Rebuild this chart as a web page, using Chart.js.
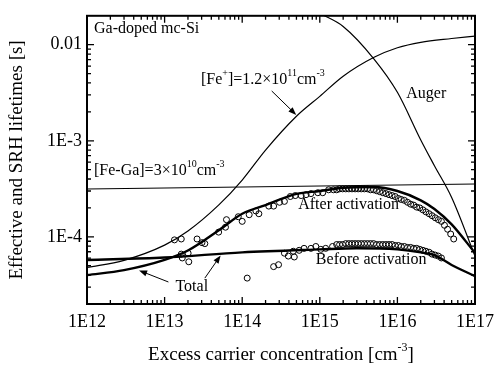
<!DOCTYPE html>
<html>
<head>
<meta charset="utf-8">
<script src="https://cdn.jsdelivr.net/npm/chart.js@4.4.0/dist/chart.umd.min.js"></script>
<style>
html, body { margin: 0; padding: 0; background: #fff; }
#chart { display: block; }
</style>
</head>
<body>
<canvas id="chart" width="501" height="370"></canvas>
<script>
// tick labels
const xTickValues = [1e12, 1e13, 1e14, 1e15, 1e16, 1e17];
const xTickLabels = ["1E12", "1E13", "1E14", "1E15", "1E16", "1E17"];
const yTickValues = [1e-4, 1e-3, 1e-2];
const yTickLabels = ["1E-4", "1E-3", "0.01"];

// SRH lifetime for [Fe+] = 1.2e11
const feX = [1e12, 3e12, 1e13, 2e13, 5e13, 1e14, 2e14, 5e14, 1e15, 2e15, 5e15, 1e16, 2e16, 5e16, 1e17];
const feY = [4.8e-5, 5.7e-5, 8.2e-5, 1.15e-4, 2.15e-4, 3.9e-4, 8.0e-4, 1.8e-3, 2.9e-3, 4.7e-3, 7.4e-3, 9.3e-3, 1.06e-2, 1.16e-2, 1.23e-2];

// SRH lifetime for [Fe-Ga] = 3e10
const feGaX = [1e12, 1e17];
const feGaY = [3.15e-4, 3.55e-4];

// Auger
const augerX = [1e15, 2e15, 5e15, 1e16, 2e16, 3e16, 5e16, 1e17];
const augerY = [0.0212, 0.0155, 0.0071, 0.0032, 1.02e-3, 5.5e-4, 2.57e-4, 6.3e-5];

// total, after activation
const totAfterX = [1e12, 3e12, 1e13, 2e13, 5e13, 1e14, 2e14, 5e14, 1e15, 2e15, 5e15, 1e16, 2e16, 3e16, 5e16, 1e17];
const totAfterY = [4.0e-5, 4.5e-5, 5.75e-5, 7.2e-5, 1.17e-4, 1.74e-4, 2.14e-4, 2.8e-4, 3.0e-4, 3.24e-4, 3.3e-4, 3.0e-4, 2.4e-4, 1.95e-4, 1.35e-4, 6.8e-5];

// total, before activation
const totBeforeX = [1e12, 1e13, 1e14, 1e15, 3e15, 1e16, 2e16, 3e16, 5e16, 1e17];
const totBeforeY = [5.75e-5, 6.1e-5, 6.9e-5, 7.4e-5, 7.6e-5, 7.4e-5, 6.9e-5, 6.45e-5, 5.1e-5, 3.9e-5];

// measured, after activation
const afterX = [1.34e13, 1.64e13, 2.62e13, 3.03e13, 3.30e13, 4.97e13, 6.09e13, 6.27e13, 8.9e13, 1.0e14,
  1.23e14, 1.5e14, 1.64e14, 2.2e14, 2.54e14, 3.03e14, 3.5e14, 4.17e14, 4.83e14, 5.75e14,
  6.65e14, 7.69e14, 9.44e14, 1.09e15, 1.3e15,
  1.50e15, 1.65e15, 1.80e15, 1.97e15, 2.16e15, 2.37e15, 2.60e15, 2.85e15, 3.12e15, 3.42e15,
  3.75e15, 4.11e15, 4.50e15, 4.93e15, 5.40e15, 5.92e15, 6.49e15, 7.11e15, 7.79e15, 8.54e15,
  9.36e15, 1.03e16, 1.12e16, 1.23e16, 1.35e16, 1.48e16, 1.62e16, 1.77e16, 1.94e16, 2.13e16,
  2.33e16, 2.56e16, 2.80e16, 3.07e16, 3.37e16, 3.69e16, 4.04e16, 4.43e16, 4.86e16, 5.32e16];
const afterY = [9.3e-5, 9.5e-5, 9.5e-5, 8.7e-5, 8.5e-5, 1.12e-4, 1.26e-4, 1.51e-4, 1.62e-4, 1.45e-4,
  1.70e-4, 1.86e-4, 1.74e-4, 2.09e-4, 2.09e-4, 2.29e-4, 2.34e-4, 2.63e-4, 2.69e-4, 2.69e-4,
  2.75e-4, 2.82e-4, 2.88e-4, 2.88e-4, 3.09e-4,
  3.09e-4, 3.09e-4, 3.16e-4, 3.16e-4, 3.16e-4, 3.16e-4, 3.16e-4, 3.16e-4, 3.16e-4, 3.16e-4,
  3.16e-4, 3.16e-4, 3.09e-4, 3.09e-4, 3.02e-4, 2.95e-4, 2.88e-4, 2.82e-4, 2.75e-4, 2.69e-4,
  2.63e-4, 2.51e-4, 2.45e-4, 2.40e-4, 2.29e-4, 2.19e-4, 2.14e-4, 2.04e-4, 2.00e-4, 1.91e-4,
  1.82e-4, 1.74e-4, 1.66e-4, 1.58e-4, 1.51e-4, 1.45e-4, 1.32e-4, 1.20e-4, 1.07e-4, 9.5e-5];

// measured, before activation
const beforeX = [1.64e13, 1.69e13, 2.01e13, 2.05e13, 1.16e14, 2.54e14, 2.94e14, 3.5e14, 3.93e14, 4.55e14,
  4.69e14, 5.42e14, 6.27e14, 7.69e14, 8.89e14, 1.03e15, 1.19e15, 1.46e15,
  1.65e15, 1.80e15, 1.97e15, 2.16e15, 2.37e15, 2.60e15, 2.85e15, 3.12e15, 3.42e15, 3.75e15,
  4.11e15, 4.50e15, 4.93e15, 5.40e15, 5.92e15, 6.49e15, 7.11e15, 7.79e15, 8.54e15, 9.36e15,
  1.03e16, 1.12e16, 1.23e16, 1.35e16, 1.48e16, 1.62e16, 1.77e16, 1.94e16, 2.13e16, 2.33e16,
  2.56e16, 2.80e16, 3.07e16, 3.37e16, 3.69e16];
const beforeY = [6.61e-5, 6.03e-5, 6.76e-5, 5.5e-5, 3.72e-5, 4.9e-5, 5.13e-5, 6.76e-5, 6.31e-5, 7.08e-5,
  6.17e-5, 7.24e-5, 7.59e-5, 7.59e-5, 7.94e-5, 7.41e-5, 7.59e-5, 7.94e-5,
  8.32e-5, 8.32e-5, 8.32e-5, 8.51e-5, 8.51e-5, 8.51e-5, 8.51e-5, 8.51e-5, 8.51e-5, 8.51e-5,
  8.51e-5, 8.51e-5, 8.51e-5, 8.32e-5, 8.32e-5, 8.32e-5, 8.32e-5, 8.32e-5, 8.32e-5, 8.13e-5,
  8.13e-5, 7.94e-5, 7.94e-5, 7.76e-5, 7.76e-5, 7.59e-5, 7.59e-5, 7.41e-5, 7.24e-5, 7.08e-5,
  6.92e-5, 6.61e-5, 6.46e-5, 6.31e-5, 6.03e-5];

const FONT = "'Liberation Serif', 'Times New Roman', serif";

// labels placed in data coordinates: [text, superscript?] parts
const notes = [
    { x: 1.23e12, y: 0.0148, parts: [["Ga-doped mc-Si"]] },
    { x: 2.94e13, y: 4.27e-3, parts: [["[Fe"], ["+", 1], ["]=1.2\u00d710"], ["11", 1], ["cm"], ["-3", 1]] },
    { x: 1.3e16, y: 3.09e-3, parts: [["Auger"]] },
    { x: 1.23e12, y: 4.9e-4, parts: [["[Fe-Ga]=3\u00d710"], ["10", 1], ["cm"], ["-3", 1]] },
    { x: 5.27e14, y: 2.14e-4, parts: [["After activation"]] },
    { x: 8.9e14, y: 5.75e-5, parts: [["Before activation"]] },
    { x: 1.38e13, y: 3.02e-5, parts: [["Total"]] }
];
const arrows = [
    { from: [2.4e14, 3.3e-3], to: [4.97e14, 1.86e-3] },
    { from: [1.12e13, 3.39e-5], to: [4.69e12, 4.47e-5] },
    { from: [3.3e13, 3.72e-5], to: [5.27e13, 6.4e-5] }
];

function pts(xs, ys) {
    return xs.map((v, i) => ({ x: v, y: ys[i] }));
}

function lineSet(xs, ys, width) {
    return {
        data: pts(xs, ys),
        showLine: true,
        borderColor: "#000",
        borderWidth: width,
        pointRadius: 0,
        cubicInterpolationMode: "monotone",
        fill: false
    };
}

function circleSet(xs, ys) {
    return {
        data: pts(xs, ys),
        showLine: false,
        pointStyle: "circle",
        pointRadius: 3,
        borderWidth: 1,
        borderColor: "#000",
        backgroundColor: "rgba(0,0,0,0)"
    };
}

function richWidth(ctx, parts, size) {
    let w = 0;
    parts.forEach(p => {
        ctx.font = (p[1] ? Math.round(size * 0.62) : size) + "px " + FONT;
        w += ctx.measureText(p[0]).width;
    });
    return w;
}

function drawRich(ctx, parts, x, y, size) {
    let cx = x;
    parts.forEach(p => {
        ctx.font = (p[1] ? Math.round(size * 0.62) : size) + "px " + FONT;
        ctx.fillText(p[0], cx, p[1] ? y - size * 0.4 : y);
        cx += ctx.measureText(p[0]).width;
    });
}

function logTicks(scale) {
    const out = [];
    for (let e = Math.floor(Math.log10(scale.min)); e <= Math.ceil(Math.log10(scale.max)); e++) {
        for (let k = 1; k <= 9; k++) {
            const v = k * Math.pow(10, e);
            if (v <= scale.min * 1.0001 || v >= scale.max * 0.9999) continue;
            out.push({ p: scale.getPixelForValue(v), major: k === 1 });
        }
    }
    return out;
}

const decor = {
    id: "decor",
    afterDatasetsDraw(chart) {
        const { ctx, chartArea: a, scales: { x, y } } = chart;
        ctx.save();
        ctx.strokeStyle = "#000";
        ctx.fillStyle = "#000";

        // inward ticks on all sides
        ctx.lineWidth = 1.3;
        ctx.beginPath();
        logTicks(x).forEach(t => {
            const len = t.major ? 7 : 4;
            ctx.moveTo(t.p, a.bottom); ctx.lineTo(t.p, a.bottom - len);
            ctx.moveTo(t.p, a.top); ctx.lineTo(t.p, a.top + len);
        });
        logTicks(y).forEach(t => {
            const len = t.major ? 7 : 4;
            ctx.moveTo(a.left, t.p); ctx.lineTo(a.left + len, t.p);
            ctx.moveTo(a.right, t.p); ctx.lineTo(a.right - len, t.p);
        });
        ctx.stroke();

        // frame
        ctx.lineWidth = 2;
        ctx.strokeRect(a.left, a.top, a.right - a.left, a.bottom - a.top);

        // text labels
        ctx.textBaseline = "middle";
        ctx.textAlign = "left";
        notes.forEach(n => {
            drawRich(ctx, n.parts, x.getPixelForValue(n.x), y.getPixelForValue(n.y), 16);
        });

        // arrows
        ctx.lineWidth = 1;
        arrows.forEach(ar => {
            const x0 = x.getPixelForValue(ar.from[0]), y0 = y.getPixelForValue(ar.from[1]);
            const x1 = x.getPixelForValue(ar.to[0]), y1 = y.getPixelForValue(ar.to[1]);
            const ang = Math.atan2(y1 - y0, x1 - x0);
            ctx.beginPath();
            ctx.moveTo(x0, y0);
            ctx.lineTo(x1 - 6 * Math.cos(ang), y1 - 6 * Math.sin(ang));
            ctx.stroke();
            ctx.beginPath();
            ctx.moveTo(x1, y1);
            ctx.lineTo(x1 - 8 * Math.cos(ang) + 3 * Math.sin(ang), y1 - 8 * Math.sin(ang) - 3 * Math.cos(ang));
            ctx.lineTo(x1 - 8 * Math.cos(ang) - 3 * Math.sin(ang), y1 - 8 * Math.sin(ang) + 3 * Math.cos(ang));
            ctx.closePath();
            ctx.fill();
        });

        // x axis title with superscript
        const title = [["Excess carrier concentration [cm"], ["-3", 1], ["]"]];
        const w = richWidth(ctx, title, 19);
        drawRich(ctx, title, (a.left + a.right) / 2 - w / 2, a.bottom + 51, 19);
        ctx.restore();
    }
};

function tickText(values, labels) {
    return function (v) {
        const i = values.findIndex(t => Math.abs(v / t - 1) < 1e-6);
        return i >= 0 ? labels[i] : "";
    };
}

new Chart(document.getElementById("chart"), {
    type: "scatter",
    data: {
        datasets: [
            circleSet(afterX, afterY),
            circleSet(beforeX, beforeY),
            lineSet(feX, feY, 1.2),
            lineSet(feGaX, feGaY, 1.2),
            lineSet(augerX, augerY, 1.2),
            lineSet(totAfterX, totAfterY, 2.4),
            lineSet(totBeforeX, totBeforeY, 2.4)
        ]
    },
    options: {
        responsive: false,
        devicePixelRatio: 1,
        animation: false,
        layout: { padding: { top: 4, right: 19, left: 0, bottom: 0 } },
        plugins: {
            legend: { display: false },
            tooltip: { enabled: false }
        },
        scales: {
            x: {
                type: "logarithmic",
                min: 1e12,
                max: 1e17,
                grid: { display: false, drawTicks: false },
                border: { display: false },
                ticks: {
                    autoSkip: false,
                    maxRotation: 0,
                    padding: 7,
                    color: "#000",
                    font: { family: FONT, size: 18 },
                    callback: tickText(xTickValues, xTickLabels)
                },
                afterFit(scale) { scale.height = 66; }
            },
            y: {
                type: "logarithmic",
                min: 2e-5,
                max: 0.02,
                grid: { display: false, drawTicks: false },
                border: { display: false },
                ticks: {
                    autoSkip: false,
                    padding: 5,
                    color: "#000",
                    font: { family: FONT, size: 18 },
                    callback: tickText(yTickValues, yTickLabels)
                },
                title: {
                    display: true,
                    text: "Effective and SRH lifetimes [s]",
                    color: "#000",
                    font: { family: FONT, size: 19 },
                    padding: { top: 6, bottom: 0 }
                },
                afterFit(scale) { scale.width = 87; }
            }
        }
    },
    plugins: [decor]
});
</script>
</body>
</html>
